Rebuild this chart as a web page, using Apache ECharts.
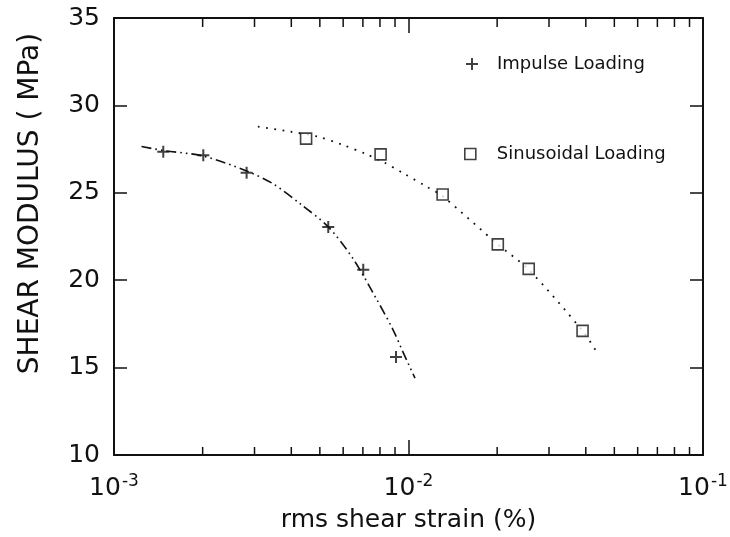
<!DOCTYPE html>
<html>
<head>
<meta charset="utf-8">
<script src="https://cdn.jsdelivr.net/npm/echarts@6/dist/echarts.min.js"></script>
<style>
  html, body { margin: 0; padding: 0; background: #fff; }
  #chart { width: 730px; height: 537px; }
</style>
</head>
<body>
<div id="chart"></div>
<script>
// ---- data ----
const impulseStrain = [1.47e-3, 2.01e-3, 2.82e-3, 5.34e-3, 7.02e-3, 9.07e-3];
const impulseModulus = [27.35, 27.15, 26.15, 23.05, 20.6, 15.6];

const sinStrain = [4.49e-3, 8.04e-3, 1.306e-2, 2.01e-2, 2.56e-2, 3.9e-2];
const sinModulus = [28.1, 27.2, 24.9, 22.05, 20.65, 17.1];

const impulseFitStrain = [1.24e-3, 1.47e-3, 2.01e-3, 2.82e-3, 3.48e-3, 4.34e-3, 5.34e-3, 6.5e-3, 7.8e-3, 8.87e-3, 9.57e-3, 1.052e-2];
const impulseFitModulus = [27.65, 27.42, 27.1, 26.25, 25.5, 24.3, 23.05, 21.2, 18.9, 17.15, 15.9, 14.4];

const sinFitStrain = [3.08e-3, 3.96e-3, 4.93e-3, 5.96e-3, 7.17e-3, 8.26e-3, 9.6e-3, 1.153e-2, 1.306e-2, 2.01e-2, 2.56e-2, 3.9e-2, 4.39e-2];
const sinFitModulus = [28.78, 28.5, 28.21, 27.75, 27.22, 26.74, 26.12, 25.35, 24.8, 22.05, 20.6, 17.1, 15.8];

const xMin = 1e-3, xMax = 1e-1;
const yMin = 10, yMax = 35, yStep = 5;
const minorStrain = [2e-3, 3e-3, 4e-3, 5e-3, 6e-3, 7e-3, 8e-3, 9e-3, 2e-2, 3e-2, 4e-2, 5e-2, 6e-2, 7e-2, 8e-2, 9e-2];

const seriesNames = ['Impulse Loading', 'Sinusoidal Loading'];
const xTitle = 'rms shear strain (%)';
const yTitle = 'SHEAR MODULUS ( MPa)';

// ---- chart ----
const FONT = 'DejaVu Sans';
const INK = '#111';
const plusPath = 'path://M5,0H7V5H12V7H7V12H5V7H0V5H5Z';
const zip = (a, b) => a.map((v, i) => [v, b[i]]);

const chart = echarts.init(document.getElementById('chart'), null, { renderer: 'canvas' });

const baseX = {
  type: 'log', logBase: 10, min: xMin, max: xMax,
  splitLine: { show: false },
  axisLine: { show: true, onZero: false, lineStyle: { color: INK, width: 2 } },
  axisTick: { show: true, inside: true, length: 15, lineStyle: { color: INK, width: 1.5 } },
  minorTick: { show: false }
};
const baseY = {
  type: 'value', min: yMin, max: yMax, interval: yStep,
  splitLine: { show: false },
  axisLine: { show: true, onZero: false, lineStyle: { color: INK, width: 2 } },
  axisTick: { show: true, inside: true, length: 13, lineStyle: { color: INK, width: 1.5 } }
};

const option = {
  backgroundColor: '#fff',
  animation: false,
  grid: { left: 114, right: 27, top: 18, bottom: 82, containLabel: false, outerBoundsMode: 'none' },
  legend: [
    {
      data: [{ name: seriesNames[0], icon: plusPath }],
      left: 461, top: 50, itemWidth: 12, itemHeight: 12,
      selectedMode: false,
      itemStyle: { color: INK, borderWidth: 0 },
      textStyle: { fontFamily: FONT, fontSize: 18, color: INK, padding: [0, 0, 0, 14] }
    },
    {
      data: [{ name: seriesNames[1], icon: 'rect' }],
      left: 459, top: 140, itemWidth: 11, itemHeight: 11,
      selectedMode: false,
      itemStyle: { color: '#fff', borderColor: INK, borderWidth: 1.6 },
      textStyle: { fontFamily: FONT, fontSize: 18, color: INK, padding: [0, 0, 0, 16] }
    }
  ],
  xAxis: [
    Object.assign({}, baseX, {
      position: 'bottom',
      name: xTitle, nameLocation: 'middle', nameGap: 53,
      nameTextStyle: { fontFamily: FONT, fontSize: 25, color: INK },
      axisLabel: {
        margin: 18,
        formatter: v => '{b|10}{s|' + Math.round(Math.log10(v)) + '}',
        rich: {
          b: { fontFamily: FONT, fontSize: 25, color: INK },
          s: { fontFamily: FONT, fontSize: 17, color: INK, padding: [0, 0, 14, 1] }
        }
      }
    }),
    Object.assign({}, baseX, { position: 'top', axisLabel: { show: false } })
  ],
  yAxis: [
    Object.assign({}, baseY, {
      position: 'left',
      name: yTitle, nameLocation: 'middle', nameGap: 69,
      nameTextStyle: { fontFamily: FONT, fontSize: 28, color: INK, padding: [0, 0, 0, 66] },
      axisLabel: { margin: 14, fontFamily: FONT, fontSize: 25, color: INK }
    }),
    Object.assign({}, baseY, { position: 'right', axisLabel: { show: false } })
  ],
  series: [
    {
      name: 'minor ticks', type: 'custom', silent: true, clip: false,
      xAxisIndex: 0, yAxisIndex: 0,
      data: minorStrain.map(v => [v, yMin]),
      renderItem: (params, api) => {
        const x = api.value(0);
        const b = api.coord([x, yMin]);
        const t = api.coord([x, yMax]);
        const st = { stroke: INK, lineWidth: 1.5 };
        return {
          type: 'group', children: [
            { type: 'line', shape: { x1: b[0], y1: b[1], x2: b[0], y2: b[1] - 8 }, style: st },
            { type: 'line', shape: { x1: t[0], y1: t[1], x2: t[0], y2: t[1] + 9 }, style: st }
          ]
        };
      }
    },
    {
      name: 'impulse fit', type: 'line', smooth: 0.3, showSymbol: false, silent: true,
      data: zip(impulseFitStrain, impulseFitModulus),
      lineStyle: { color: INK, width: 1.6, type: [10, 4, 1.6, 4, 1.6, 4] },
      z: 2
    },
    {
      name: 'sinusoidal fit', type: 'line', smooth: 0.3, showSymbol: false, silent: true,
      data: zip(sinFitStrain, sinFitModulus),
      lineStyle: { color: INK, width: 1.8, type: [1.8, 6.5] },
      z: 2
    },
    {
      name: seriesNames[0], type: 'scatter', symbol: plusPath, symbolSize: 12,
      data: zip(impulseStrain, impulseModulus),
      itemStyle: { color: INK, borderWidth: 0 },
      z: 3
    },
    {
      name: seriesNames[1], type: 'scatter', symbol: 'rect', symbolSize: 11,
      data: zip(sinStrain, sinModulus),
      itemStyle: { color: '#fff', borderColor: INK, borderWidth: 1.6 },
      z: 3
    }
  ]
};
chart.setOption(option);
</script>
</body>
</html>
